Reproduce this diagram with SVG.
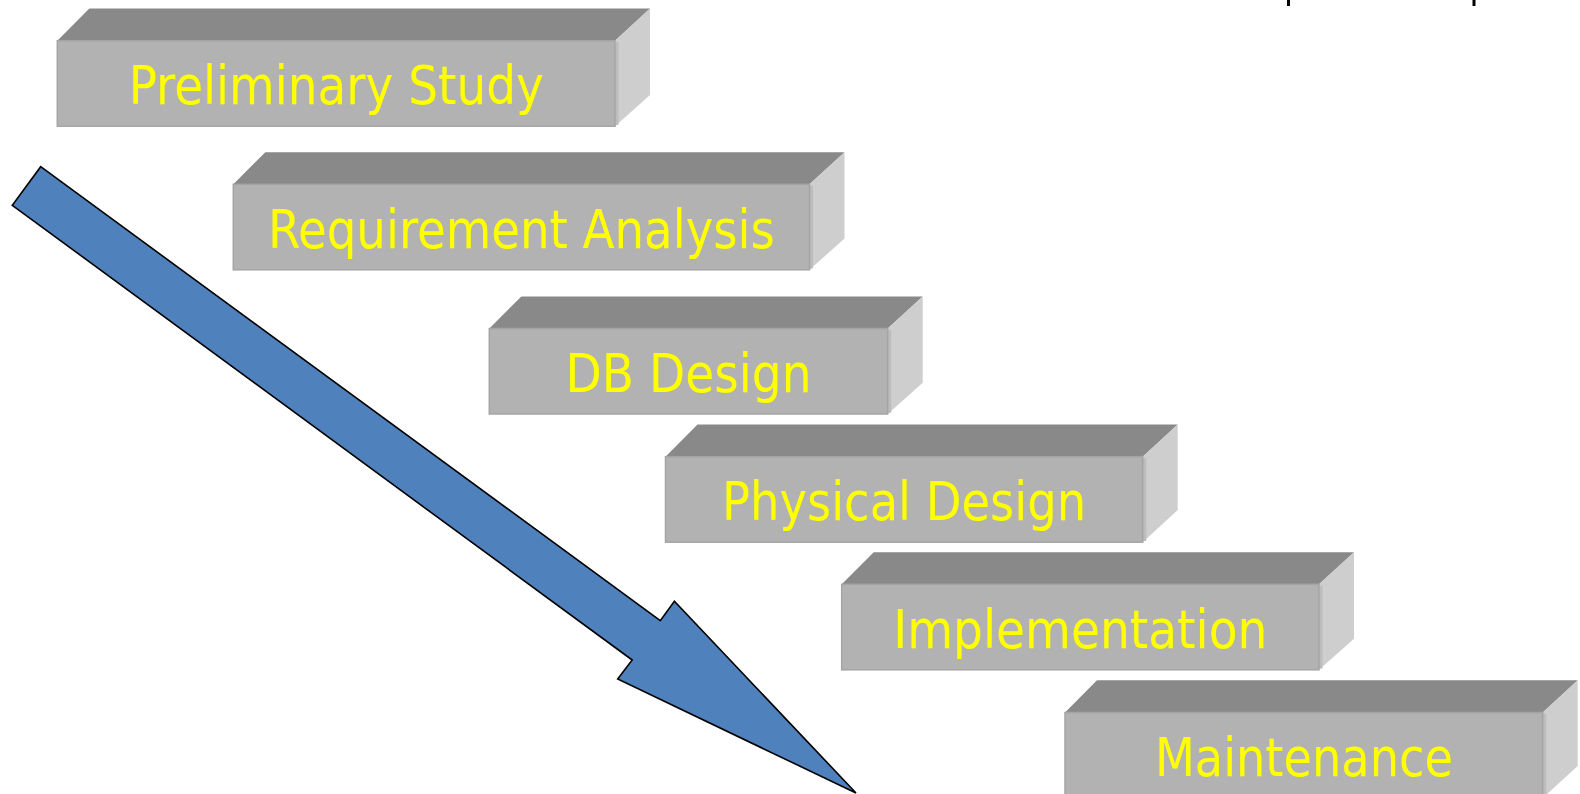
<svg xmlns="http://www.w3.org/2000/svg" width="1580" height="794" viewBox="0 0 1580 794">
  <style>
    .top { fill: #898989; }
    .front { fill: #b2b2b2; stroke: #a4a4a4; stroke-width: 1.5; }
    .side { fill: #cecece; }
    .edge { stroke: #bdbdbd; stroke-width: 3; fill: none; }
    .label { font-family: "DejaVu Sans Condensed", "DejaVu Sans", sans-serif; font-size: 54px; fill: #ffff00; text-anchor: middle; }
    .arrow { fill: #4f81bd; stroke: #000000; stroke-width: 1.6; stroke-linejoin: miter; }
  </style>
  <rect width="1580" height="794" fill="#ffffff"/>

  <!-- small marks along the top edge -->
  <rect x="1287" y="0" width="3" height="6" fill="#000000"/>
  <rect x="1472.5" y="0" width="3" height="6" fill="#000000"/>

  <!-- process arrow -->
  <g id="connectors">
    <polygon class="arrow" points="40.7,166.7 660.3,620.7 674.4,601.3 856,793 617.7,679 632.2,660 12.3,205.3"/>
  </g>

  <!-- step 1 -->
  <g id="step-preliminary-study">
    <polygon class="top" points="57.3,40.7 89.3,8.5 650,8.5 615,40.7"/>
    <polygon class="side" points="615,40.7 650,8.5 650,95 615,126.2"/>
    <line class="edge" x1="617" y1="42" x2="617" y2="125"/>
    <rect class="front" x="57.3" y="40.7" width="557.7" height="85.5"/>
    <text class="label" x="336.2" y="104" textLength="415" lengthAdjust="spacingAndGlyphs">Preliminary Study</text>
  </g>

  <!-- step 2 -->
  <g id="step-requirement-analysis">
    <polygon class="top" points="233.3,184.3 265.3,152.3 844.5,152.3 809.5,184.3"/>
    <polygon class="side" points="809.5,184.3 844.5,152.3 844.5,238.6 809.5,269.8"/>
    <line class="edge" x1="811.5" y1="185.6" x2="811.5" y2="268.6"/>
    <rect class="front" x="233.3" y="184.3" width="576.2" height="85.5"/>
    <text class="label" x="521.4" y="248" textLength="507" lengthAdjust="spacingAndGlyphs">Requirement Analysis</text>
  </g>

  <!-- step 3 -->
  <g id="step-db-design">
    <polygon class="top" points="489.3,328.5 521.3,296.5 922.7,296.5 887.7,328.5"/>
    <polygon class="side" points="887.7,328.5 922.7,296.5 922.7,382.8 887.7,414"/>
    <line class="edge" x1="889.7" y1="329.8" x2="889.7" y2="412.8"/>
    <rect class="front" x="489.3" y="328.5" width="398.4" height="85.5"/>
    <text class="label" x="688.5" y="392" textLength="246" lengthAdjust="spacingAndGlyphs">DB Design</text>
  </g>

  <!-- step 4 -->
  <g id="step-physical-design">
    <polygon class="top" points="665.5,456.7 697.5,424.5 1177.7,424.5 1142.7,456.7"/>
    <polygon class="side" points="1142.7,456.7 1177.7,424.5 1177.7,510 1142.7,542.2"/>
    <line class="edge" x1="1144.7" y1="458" x2="1144.7" y2="541"/>
    <rect class="front" x="665.5" y="456.7" width="477.2" height="85.5"/>
    <text class="label" x="904.1" y="520" textLength="364" lengthAdjust="spacingAndGlyphs">Physical Design</text>
  </g>

  <!-- step 5 -->
  <g id="step-implementation">
    <polygon class="top" points="841.7,584.3 873.7,552.3 1354,552.3 1319,584.3"/>
    <polygon class="side" points="1319,584.3 1354,552.3 1354,638.7 1319,669.8"/>
    <line class="edge" x1="1321" y1="585.6" x2="1321" y2="668.6"/>
    <rect class="front" x="841.7" y="584.3" width="477.3" height="85.5"/>
    <text class="label" x="1080.3" y="648" textLength="374" lengthAdjust="spacingAndGlyphs">Implementation</text>
  </g>

  <!-- step 6 -->
  <g id="step-maintenance">
    <polygon class="top" points="1065,712.5 1097,680.3 1577.7,680.3 1542.7,712.5"/>
    <polygon class="side" points="1542.7,712.5 1577.7,680.3 1577.7,766 1542.7,798"/>
    <line class="edge" x1="1544.7" y1="713.8" x2="1544.7" y2="796"/>
    <rect class="front" x="1065" y="712.5" width="477.7" height="90"/>
    <text class="label" x="1303.9" y="776" textLength="298" lengthAdjust="spacingAndGlyphs">Maintenance</text>
  </g>
</svg>
